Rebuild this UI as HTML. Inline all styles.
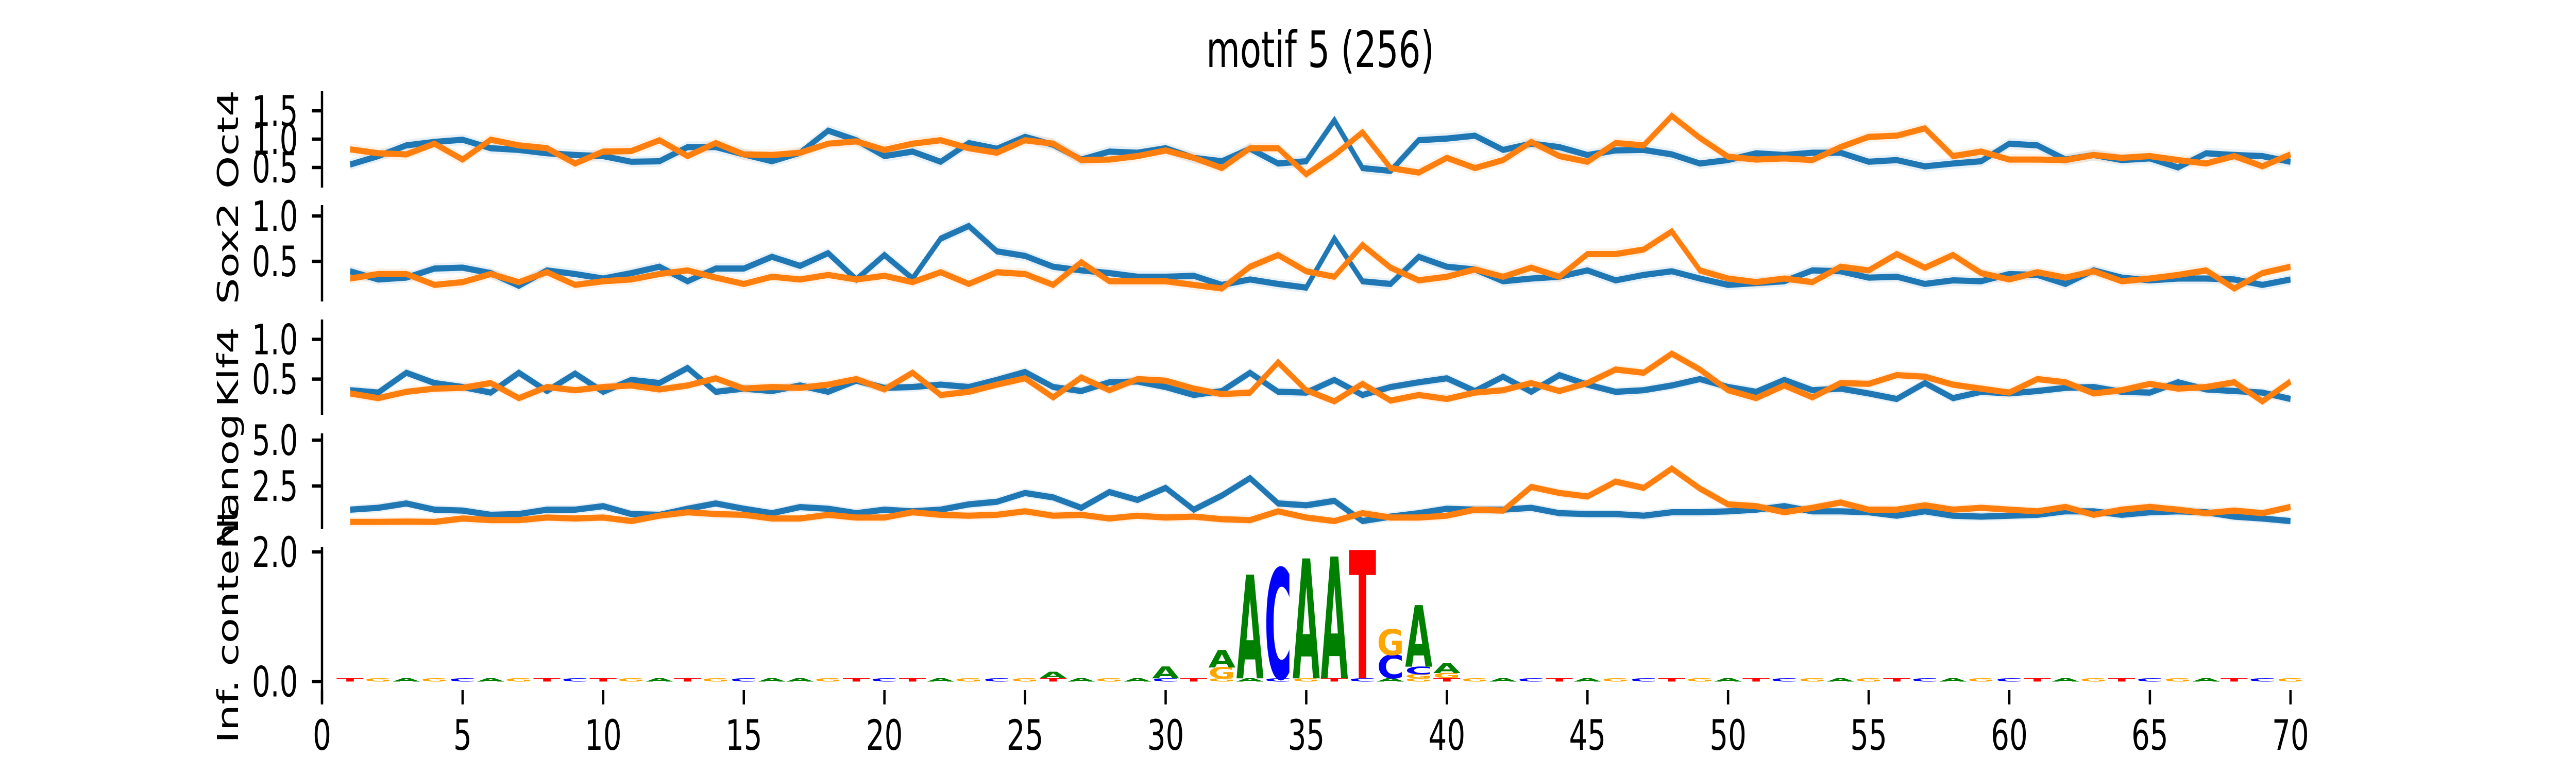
<!DOCTYPE html>
<html><head><meta charset="utf-8">
<style>
html,body{margin:0;padding:0;background:#fff;width:100%;height:100%;overflow:hidden;}
svg{display:block;width:100vw;height:100vh;}
text{font-family:"DejaVu Sans","Liberation Sans",sans-serif;fill:#000;}
</style></head>
<body>
<svg id="chart" xmlns="http://www.w3.org/2000/svg" viewBox="0 0 7200 1500" preserveAspectRatio="none">
<rect x="0" y="0" width="7200" height="1500" fill="#fff"/>
<text x="3690" y="130" font-size="97" text-anchor="middle">motif 5 (256)</text>
<g id="plots"></g>
</svg>
<script>
// ---- data ----
const positions = [1,2,3,4,5,6,7,8,9,10,11,12,13,14,15,16,17,18,19,20,21,22,23,24,25,26,27,28,29,30,31,32,33,34,35,36,37,38,39,40,41,42,43,44,45,46,47,48,49,50,51,52,53,54,55,56,57,58,59,60,61,62,63,64,65,66,67,68,69,70];
const xTickLabels = [0,5,10,15,20,25,30,35,40,45,50,55,60,65,70];
const panelNames = ["Oct4","Sox2","Klf4","Nanog"];
const oct4Blue = [0.55,0.70,0.89,0.95,0.99,0.84,0.81,0.75,0.72,0.70,0.60,0.61,0.86,0.86,0.73,0.61,0.76,1.15,0.98,0.70,0.78,0.60,0.93,0.83,1.04,0.90,0.64,0.78,0.76,0.84,0.67,0.61,0.83,0.57,0.61,
 1.33,0.49,0.44,0.98,1.01,1.06,0.81,0.92,0.86,0.72,0.80,0.81,0.73,0.57,0.63,0.75,0.72,0.76,0.76,0.60,0.63,0.52,0.57,0.61,0.92,0.89,0.64,0.72,0.63,0.66,0.50,0.75,0.72,0.70,0.60];
const oct4Orange = [0.82,0.75,0.73,0.92,0.64,0.99,0.89,0.84,0.57,0.78,0.79,0.98,0.70,0.93,0.73,0.72,0.76,0.92,0.96,0.81,0.92,0.98,0.84,0.76,0.98,0.92,0.63,0.64,0.70,0.80,0.67,0.49,0.84,0.84,0.38,
 0.72,1.12,0.49,0.41,0.67,0.49,0.63,0.95,0.70,0.60,0.93,0.89,1.41,1.02,0.69,0.64,0.66,0.63,0.86,1.04,1.06,1.19,0.70,0.78,0.64,0.64,0.63,0.72,0.67,0.70,0.63,0.57,0.70,0.52,0.73];
const sox2Blue = [0.39,0.30,0.32,0.42,0.43,0.37,0.23,0.40,0.36,0.31,0.37,0.44,0.28,0.42,0.42,0.55,0.45,0.59,0.30,0.57,0.31,0.75,0.89,0.61,0.56,0.44,0.40,0.37,0.33,0.33,0.34,0.24,0.30,0.25,0.21,
 0.75,0.28,0.25,0.55,0.44,0.41,0.28,0.31,0.33,0.40,0.29,0.35,0.39,0.31,0.24,0.26,0.28,0.40,0.39,0.32,0.33,0.25,0.29,0.28,0.36,0.35,0.25,0.40,0.32,0.29,0.31,0.31,0.30,0.24,0.30];
const sox2Orange = [0.31,0.36,0.36,0.24,0.27,0.36,0.27,0.38,0.24,0.28,0.30,0.36,0.40,0.32,0.25,0.33,0.30,0.35,0.30,0.34,0.27,0.38,0.25,0.38,0.36,0.24,0.49,0.28,0.28,0.28,0.24,0.20,0.44,0.57,0.39,
 0.33,0.68,0.43,0.29,0.33,0.41,0.33,0.43,0.33,0.58,0.58,0.63,0.83,0.40,0.31,0.27,0.31,0.27,0.44,0.40,0.58,0.43,0.57,0.37,0.30,0.38,0.32,0.39,0.28,0.31,0.35,0.40,0.20,0.37,0.44];
const klf4Blue = [0.36,0.33,0.58,0.45,0.40,0.33,0.58,0.35,0.57,0.34,0.49,0.45,0.64,0.34,0.38,0.35,0.42,0.34,0.48,0.39,0.40,0.43,0.40,0.49,0.59,0.40,0.35,0.46,0.47,0.40,0.30,0.35,0.58,0.34,0.33,
 0.49,0.30,0.40,0.46,0.51,0.35,0.53,0.34,0.55,0.43,0.34,0.36,0.42,0.50,0.40,0.34,0.49,0.36,0.38,0.32,0.25,0.45,0.26,0.34,0.32,0.35,0.39,0.40,0.34,0.33,0.46,0.37,0.35,0.33,0.25];
const klf4Orange = [0.32,0.26,0.34,0.38,0.39,0.45,0.26,0.40,0.36,0.40,0.42,0.37,0.42,0.51,0.38,0.40,0.39,0.43,0.50,0.37,0.58,0.30,0.34,0.43,0.51,0.27,0.52,0.36,0.50,0.48,0.38,0.31,0.33,0.71,0.36,
 0.22,0.44,0.23,0.30,0.25,0.33,0.36,0.45,0.35,0.45,0.62,0.58,0.82,0.62,0.36,0.26,0.42,0.27,0.45,0.44,0.55,0.53,0.43,0.38,0.33,0.50,0.46,0.32,0.36,0.44,0.38,0.40,0.46,0.22,0.47];
const nanogBlue = [1.21,1.31,1.55,1.21,1.16,0.93,0.97,1.21,1.21,1.40,0.97,0.93,1.26,1.55,1.26,1.02,1.35,1.26,1.02,1.21,1.12,1.21,1.50,1.64,2.12,1.88,1.31,2.17,1.74,2.40,1.21,1.98,2.93,1.55,1.45,
 1.69,0.59,0.83,1.02,1.26,1.21,1.21,1.31,1.02,0.97,0.97,0.88,1.07,1.07,1.12,1.21,1.40,1.12,1.12,1.07,0.88,1.12,0.88,0.83,0.88,0.93,1.12,1.12,0.93,1.07,1.12,1.07,0.83,0.73,0.59];
const nanogOrange = [0.54,0.54,0.56,0.54,0.73,0.64,0.64,0.78,0.73,0.78,0.59,0.88,1.07,0.97,0.93,0.73,0.73,0.93,0.78,0.78,1.07,0.93,0.88,0.93,1.12,0.88,0.93,0.73,0.88,0.78,0.83,0.69,0.64,1.12,0.78,
 0.59,1.02,0.78,0.78,0.88,1.21,1.16,2.45,2.12,1.93,2.74,2.40,3.45,2.36,1.50,1.40,1.07,1.31,1.60,1.21,1.21,1.45,1.21,1.31,1.21,1.12,1.36,0.93,1.21,1.36,1.21,1.02,1.16,1.02,1.36];
const bandHalfWidth = [0.10,0.06,0.06,0.25];
const yTickValues = [[0.5,1.0,1.5],[0.5,1.0],[0.5,1.0],[2.5,5.0],[0.0,2.0]];
// logo: significant positions with stacked letters (bottom -> top) in bits
const logoPos = [26,30,32,33,34,35,36,37,38,39,40];
const logoLetters = [["A"],["A"],["G","A"],["A"],["C"],["A"],["A"],["T"],["C","G"],["G","C","A"],["G","A"]];
const logoHeights = [[0.10],[0.18],[0.17,0.27],[1.60],[1.70],[1.85],[1.88],[1.98],[0.36,0.40],[0.06,0.12,0.95],[0.08,0.15]];
const bgLetters = "TGAGCAGTCTGATGCAAGTCTAGCGTAGACTGACGTCAGTGACTAGCTGATCGAGTCAGCTAGTCGATCG";
const bgHeight = 0.05;

// ---- layout ----
const X0 = 900, XS = 78.6;
const panels = [
 {top:177,bottom:364,ymin:0.145,ymax:1.845},
 {top:398,bottom:585,ymin:0.057,ymax:1.12},
 {top:620,bottom:805,ymin:0.05,ymax:1.25},
 {top:841,bottom:1026,ymin:0.17,ymax:5.37},
 {top:1061,bottom:1364,ymin:-0.33,ymax:2.08}
];
const series = [[oct4Blue,oct4Orange],[sox2Blue,sox2Orange],[klf4Blue,klf4Orange],[nanogBlue,nanogOrange]];
const colors = ["#1f77b4","#ff7f0e"];
const letterColor = {A:"#008000",C:"#0000ff",G:"#ffa500",T:"#ff0000"};
const NS = "http://www.w3.org/2000/svg";
const root = document.getElementById("plots");
function xs(v){return X0 + XS*v;}
function ysFor(p){return v => p.bottom - (v - p.ymin)/(p.ymax - p.ymin)*(p.bottom - p.top);}
function mk(tag, attrs, parent){const e=document.createElementNS(NS,tag);for(const k in attrs)e.setAttribute(k,attrs[k]);(parent||root).appendChild(e);return e;}

panels.forEach((p,pi)=>{
  const ys = ysFor(p);
  const g = mk("g",{});
  
  
  const sp = mk("line",{x1:X0,x2:X0,y1:p.top,y2:p.bottom,stroke:"#000","stroke-width":6.5},g);
  
  
  yTickValues[pi].forEach((tv)=>{
    const y = ys(tv);
    const t = mk("line",{x1:X0-28,x2:X0,y1:y,y2:y,stroke:"#000","stroke-width":6.5},g);
    
    
    const lab = mk("text",{x:833,y:y+29,"font-size":81,"text-anchor":"end"},g);
    lab.textContent = tv.toFixed(1);
    
    
  });
  const cy = (p.top+p.bottom)/2;
  const yl = mk("text",{x:665,y:cy,"font-size":81,"text-anchor":"middle",transform:`rotate(-90 665 ${cy})`},g);
  yl.textContent = pi<4 ? panelNames[pi] : "Inf. content";
  
  

  if(pi<4){
    series[pi].forEach((vals,si)=>{
      const hw = bandHalfWidth[pi];
      let up = positions.map((x,i)=>`${xs(x).toFixed(1)},${ys(vals[i]+hw).toFixed(1)}`);
      let dn = positions.map((x,i)=>`${xs(x).toFixed(1)},${ys(vals[i]-hw).toFixed(1)}`).reverse();
      const band = mk("polygon",{points:up.concat(dn).join(" "),fill:colors[si],"fill-opacity":0.1,stroke:"none"},g);
      
      
    });
    series[pi].forEach((vals,si)=>{
      const pts = positions.map((x,i)=>`${xs(x).toFixed(1)},${ys(vals[i]).toFixed(1)}`).join(" ");
      const ln = mk("polyline",{points:pts,fill:"none",stroke:colors[si],"stroke-width":12,"stroke-linejoin":"miter","stroke-miterlimit":4},g);
      
      
    });
  } else {
    const w = XS*0.97;
    function drawLetter(ch, pos, b0, h){
      const yb = ys(b0), yt = ys(b0+h);
      const hh = yb - yt;
      if(hh < 0.5) return;
      const fs = hh/0.729;
      const t = mk("text",{x:xs(pos)-w/2,y:yb,"font-size":fs.toFixed(2),"font-weight":"bold",
        textLength:w.toFixed(1),lengthAdjust:"spacingAndGlyphs",fill:letterColor[ch],style:"fill:"+letterColor[ch]},g);
      t.textContent = ch;
      
      
    }
    positions.forEach((pos,i)=>{
      const k = logoPos.indexOf(pos);
      drawLetter(bgLetters[i], pos, 0, bgHeight);
      let base = bgHeight;
      if(k>=0){
        logoLetters[k].forEach((ch,j)=>{ drawLetter(ch,pos,base,logoHeights[k][j]); base += logoHeights[k][j]; });
      }
    });
    xTickLabels.forEach(v=>{
      const x = xs(v);
      const t = mk("line",{x1:x,x2:x,y1:1339,y2:1367,stroke:"#000","stroke-width":6.5},g);
      
      
      const lab = mk("text",{x:x,y:1455,"font-size":81,"text-anchor":"middle"},g);
      lab.textContent = String(v);
      
      
    });
  }
});
</script>
</body></html>
